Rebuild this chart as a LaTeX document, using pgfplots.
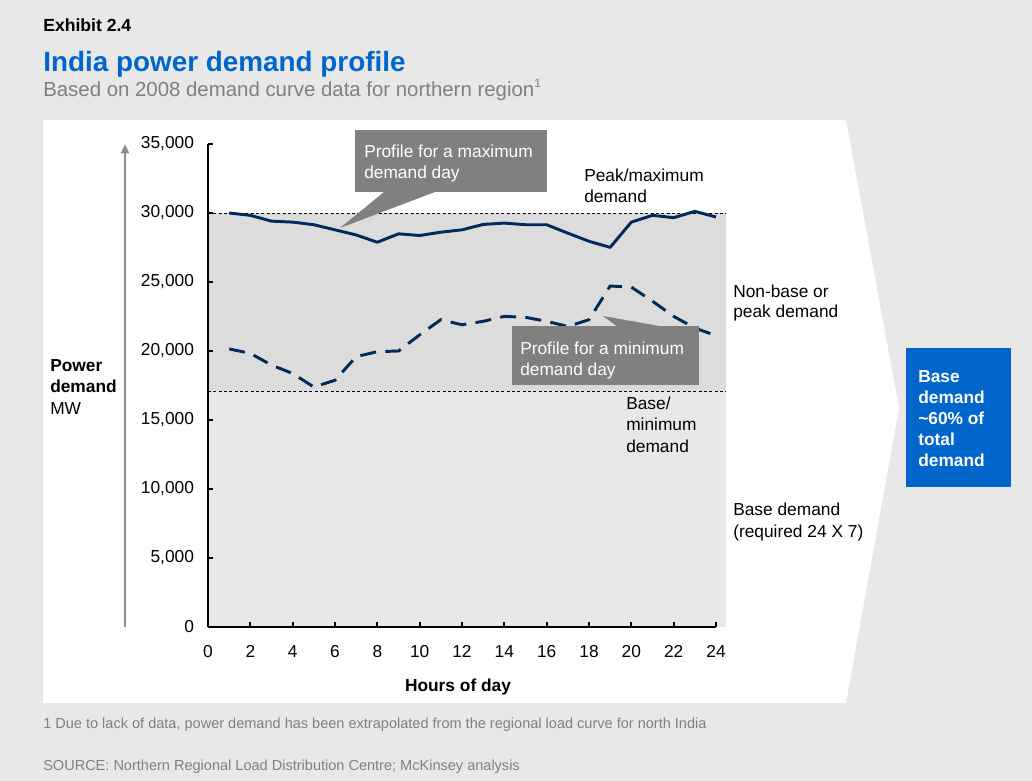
\documentclass[border=0pt]{standalone}
\usepackage{fontspec}
\setmainfont{Liberation Sans}
\usepackage{pgfplots}
\pgfplotsset{compat=1.18}
\usetikzlibrary{arrows.meta}
\definecolor{pagebg}{HTML}{E8E8E8}
\definecolor{navy}{HTML}{002A5C}
\definecolor{shadedark}{HTML}{DCDCDC}
\definecolor{shadelight}{HTML}{E8E8E8}
\definecolor{callout}{HTML}{808080}
\definecolor{mckblue}{HTML}{0066CC}
\definecolor{subgray}{HTML}{808080}
\definecolor{arrowgray}{HTML}{8C8C8C}
\newcommand{\lab}{\fontsize{13}{15.75}\selectfont}
\begin{document}
\begin{tikzpicture}
\begin{scope}[x=0.75pt,y=-0.75pt]
\fill[pagebg] (0,0) rectangle (1032,781);
\useasboundingbox (0,0) rectangle (1032,781);
\fill[white] (43,120) -- (846,120) -- (899,408) -- (846,703) -- (43,703) -- cycle;
\end{scope}
\begin{axis}[at={(156pt,-470.25pt)}, anchor=south west, scale only axis,
  width=381pt, height=362.25pt,
  xmin=0, xmax=24, ymin=0, ymax=35000, clip=false,
  axis x line=bottom, axis y line=left, axis on top,
  axis line style={line width=1.5pt,-},
  xtick={0,2,...,24}, ytick={0,5000,...,35000},
  tick align=inside, major tick length=4pt,
  tick style={line width=1.5pt, black},
  ticklabel style={font=\lab},
  xticklabel style={yshift=-10.5pt},
  yticklabel style={xshift=-7pt},
  /pgf/number format/assume math mode=true,
  /pgf/number format/1000 sep={,},
  scaled y ticks=false]
\fill[shadelight] (axis cs:0,0) rectangle (axis cs:24.47,17100);
\fill[shadedark] (axis cs:0,17100) rectangle (axis cs:24.47,30000);
\draw[black, line width=0.6pt, dash pattern=on 2.2pt off 1.8pt] (axis cs:0,30000) -- (axis cs:24.47,30000);
\draw[black, line width=0.6pt, dash pattern=on 2.2pt off 1.8pt] (axis cs:0,17100) -- (axis cs:24.47,17100);
\addplot[navy, line width=2.2pt, line join=round] coordinates {
(1,30000) (2,29830) (3,29410) (4,29340) (5,29150) (6,28780) (7,28410) (8,27880)
(9,28490) (10,28370) (11,28610) (12,28780) (13,29170) (14,29270) (15,29150) (16,29150)
(17,28540) (18,27950) (19,27510) (20,29340) (21,29830) (22,29660) (23,30120) (24,29710)};
\addplot[navy, line width=2.2pt, dash pattern=on 12pt off 7pt] coordinates {
(1,20150) (2,19830) (3,18980) (4,18370) (5,17390) (6,17880) (7,19590) (8,19950)
(9,20000) (10,21170) (11,22270) (12,21900) (13,22150) (14,22510) (15,22440) (16,22150)
(17,21780) (18,22270) (19,24710) (20,24630) (21,23610) (22,22510) (23,21660) (24,21120)};
\end{axis}
\begin{scope}[x=0.75pt,y=-0.75pt]
% titles
\node[anchor=base west, inner sep=0, font=\bfseries\fontsize{13.2}{15}\selectfont] at (43,32) {Exhibit 2.4};
\node[anchor=base west, inner sep=0, font=\bfseries\fontsize{20.9}{24}\selectfont, text=mckblue] at (43,72) {India power demand profile};
\node[anchor=base west, inner sep=0, font=\fontsize{15.3}{18}\selectfont, text=subgray] at (43,97) {Based on 2008 demand curve data for northern region\raisebox{0.45em}{\fontsize{9}{10}\selectfont 1}};
% y axis arrow and label
\draw[arrowgray, line width=1.6pt, -{Triangle[length=7pt,width=6pt]}] (125,627) -- (125,144);
\node[anchor=base west, inner sep=0, font=\bfseries\lab] at (50,371) {Power};
\node[anchor=base west, inner sep=0, font=\bfseries\lab] at (50,392) {demand};
\node[anchor=base west, inner sep=0, font=\lab] at (50,414) {MW};
% x label
\node[anchor=base, inner sep=0, font=\bfseries\lab] at (458,691) {Hours of day};
% callouts
\fill[callout] (384,192) -- (435,192) -- (340,228) -- cycle;
\fill[callout] (355,130) rectangle (547,192);
\node[anchor=base west, inner sep=0, font=\lab, text=white] at (364,158) {Profile for a maximum};
\node[anchor=base west, inner sep=0, font=\lab, text=white] at (364,179) {demand day};
\fill[callout] (618,327) -- (665,327) -- (603,316) -- cycle;
\fill[callout] (512,326) rectangle (699,385);
\node[anchor=base west, inner sep=0, font=\lab, text=white] at (520,354) {Profile for a minimum};
\node[anchor=base west, inner sep=0, font=\lab, text=white] at (520,375) {demand day};
% side labels
\node[anchor=base west, inner sep=0, font=\lab] at (584,182) {Peak/maximum};
\node[anchor=base west, inner sep=0, font=\lab] at (584,203) {demand};
\node[anchor=base west, inner sep=0, font=\lab] at (733,297) {Non-base or};
\node[anchor=base west, inner sep=0, font=\lab] at (733,317) {peak demand};
\node[anchor=base west, inner sep=0, font=\lab] at (626,409) {Base/};
\node[anchor=base west, inner sep=0, font=\lab] at (626,430) {minimum};
\node[anchor=base west, inner sep=0, font=\lab] at (626,452) {demand};
\node[anchor=base west, inner sep=0, font=\lab] at (733,515) {Base demand};
\node[anchor=base west, inner sep=0, font=\lab] at (733,537) {(required 24 X 7)};
% blue box
\fill[mckblue] (906,348) rectangle (1011,487);
\foreach \t/\y in {Base/382, demand/403, {\char`\~60\% of}/424, total/445, demand/466}
  \node[anchor=base west, inner sep=0, font=\bfseries\lab, text=white] at (918,\y) {\t};
% footnotes
\node[anchor=base west, inner sep=0, font=\fontsize{10.9}{12}\selectfont, text=subgray] at (43,728) {1 Due to lack of data, power demand has been extrapolated from the regional load curve for north India};
\node[anchor=base west, inner sep=0, font=\fontsize{10.9}{12}\selectfont, text=subgray] at (43,770) {SOURCE: Northern Regional Load Distribution Centre; McKinsey analysis};
\end{scope}
\end{tikzpicture}
\end{document}
